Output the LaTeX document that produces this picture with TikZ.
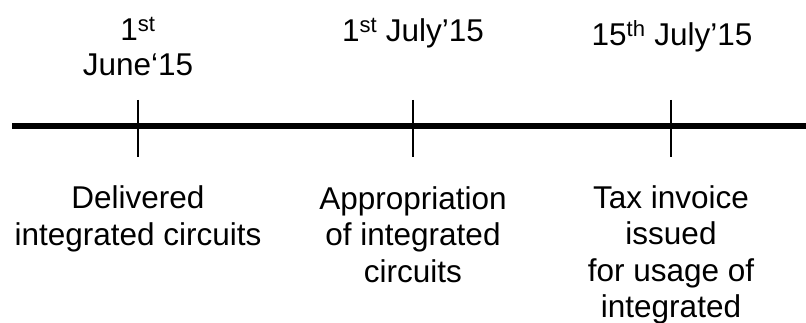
\documentclass[tikz,border=0pt]{standalone}
\usepackage{fontspec}
\setmainfont{Liberation Sans}
\begin{document}
\begin{tikzpicture}[x=1pt, y=-1pt,
  datelabel/.style={anchor=base, inner sep=0pt, align=center, font=\fontsize{31.5}{35}\selectfont},
  eventlabel/.style={anchor=base, inner sep=0pt, align=center, font=\fontsize{31.5}{36.5}\selectfont},
  tickmark/.style={line width=1.5pt}]
  \useasboundingbox (0, 0) rectangle (806, 323);

\coordinate (start) at (12, 126);
\coordinate (stop)  at (806, 126);
\draw [line width=5.5pt] (start) -- (stop);

\coordinate (june top) at (138, 100);  \coordinate (june bot) at (138, 157);
\coordinate (july top) at (413, 100);  \coordinate (july bot) at (413, 157);
\coordinate (mid top)  at (671, 100);  \coordinate (mid bot)  at (671, 157);
\draw [tickmark] (june top) -- (june bot);
\draw [tickmark] (july top) -- (july bot);
\draw [tickmark] (mid top) -- (mid bot);

% multi-line nodes sit on the baseline of their last line
\node [datelabel] (june date) at (138, 76) {1\textsuperscript{st}\\June‘15};
\node [datelabel] (july date) at (413, 42) {1\textsuperscript{st} July’15};
\node [datelabel] (mid date)  at (672, 46) {15\textsuperscript{th} July’15};

\node [eventlabel] (delivered)   at (138, 245.5) {Delivered\\integrated circuits};
\node [eventlabel] (appropriate) at (413, 282) {Appropriation\\of integrated\\circuits};
\node [eventlabel] (invoice)     at (671, 317.5) {Tax invoice\\issued\\for usage of\\integrated};
\end{tikzpicture}
\end{document}
